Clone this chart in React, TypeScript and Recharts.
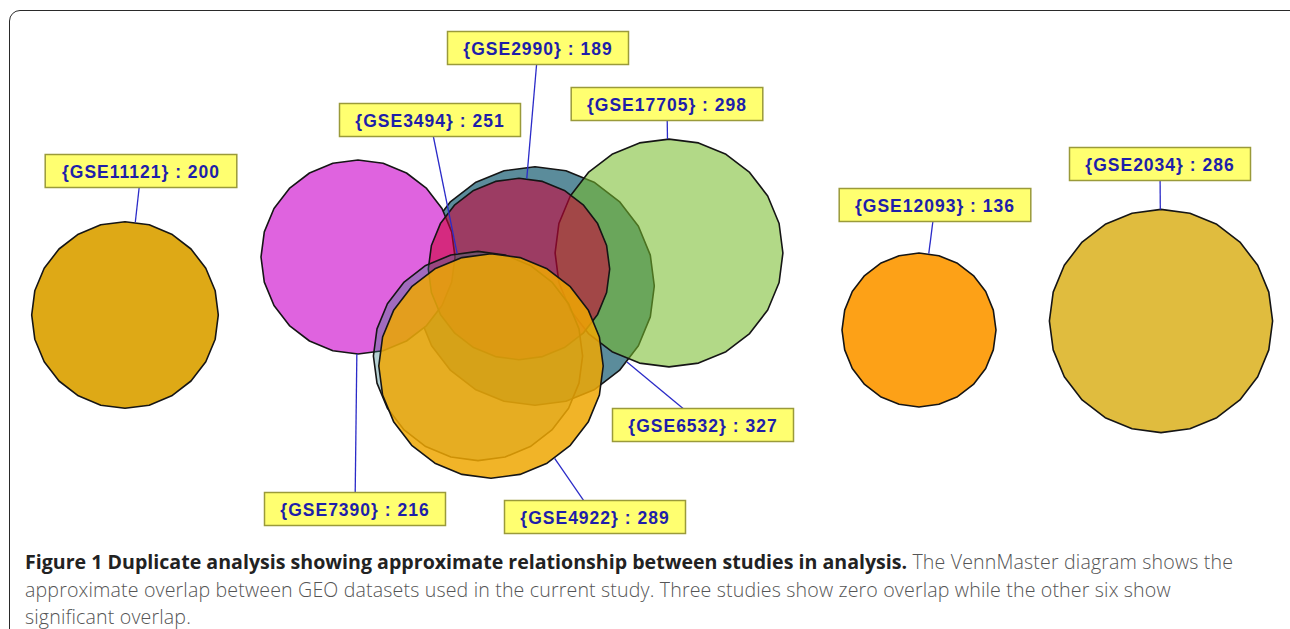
import React from 'react'
import { ScatterChart, Scatter, XAxis, YAxis, ZAxis } from 'recharts'

const W = 1290
const H = 629

// VennMaster sets, listed in drawing order (back to front)
const studies = ['GSE11121', 'GSE12093', 'GSE2034', 'GSE6532', 'GSE7390', 'GSE17705', 'GSE2990', 'GSE3494', 'GSE4922']
const counts = [200, 136, 286, 327, 216, 298, 189, 251, 289]
const centerX = [125, 919, 1161, 535, 358, 669, 519, 478, 491]
const centerY = [315, 330, 321, 286, 257, 253, 269, 356, 366]
// where each "{set} : n" tag sits
const labelX = [141, 935, 1160, 703, 355, 667, 538, 430, 595]
const labelY = [171, 205, 164, 425, 509, 104, 48, 120, 517]

const FILLS: Record<string, [string, number]> = {
  GSE11121: ['#DEA916', 1],
  GSE12093: ['#FDA117', 1],
  GSE2034: ['#E0BC3E', 1],
  GSE6532: ['#5B8C9B', 1],
  GSE7390: ['#DF63DF', 1],
  GSE17705: ['#75BB29', 0.56],
  GSE2990: ['#CD0038', 0.57],
  GSE3494: ['#2E7A80', 0.35],
  GSE4922: ['#EEA702', 0.85],
}

const K = 6.6 // px radius per sqrt(count)
const SIDES = 24

const rows = studies.map((s, i) => ({ name: s, x: centerX[i], y: centerY[i], count: counts[i] }))
const tags = studies.map((s, i) => ({ name: s, x: labelX[i], y: labelY[i], text: `{${s}} : ${counts[i]}` }))

// connector from the circle's rim toward the tag centre
const connectors = rows.map((r, i) => {
  const dx = labelX[i] - r.x
  const dy = labelY[i] - r.y
  const d = Math.sqrt(dx * dx + dy * dy)
  const rad = K * Math.sqrt(r.count)
  return [
    { x: r.x + (rad * dx) / d, y: r.y + (rad * dy) / d },
    { x: labelX[i], y: labelY[i] },
  ]
})

function PolyCircle(props: any) {
  const { cx, cy, width, payload } = props
  const r = width / 2
  const pts: string[] = []
  for (let i = 0; i < SIDES; i++) {
    const a = (i / SIDES) * Math.PI * 2 - Math.PI / 2
    pts.push(`${(cx + r * Math.cos(a)).toFixed(1)},${(cy + r * Math.sin(a)).toFixed(1)}`)
  }
  const [fill, op] = FILLS[payload.name]
  return <polygon points={pts.join(' ')} fill={fill} fillOpacity={op} stroke="#151515" strokeWidth={1.6} strokeLinejoin="round" />
}

function Tag(props: any) {
  const { cx, cy, payload } = props
  const text: string = payload.text
  const w = text.length * 10.6 + 22
  const h = 33
  return (
    <g>
      <rect x={cx - w / 2} y={cy - h / 2} width={w} height={h} fill="#FFFF70" stroke="#9A9A3A" strokeWidth={1.5} />
      <text
        x={cx}
        y={cy + 1}
        textAnchor="middle"
        dominantBaseline="central"
        fontFamily="'Liberation Sans', Arial, sans-serif"
        fontWeight="bold"
        fontSize={17.5}
        letterSpacing={1}
        fill="#1E1EAA"
      >
        {text}
      </text>
    </g>
  )
}

const NoDot = () => <g />

export default function App() {
  return (
    <div style={{ position: 'absolute', left: 0, top: 0, width: W, height: H, background: '#fff', overflow: 'hidden' }}>
      <div
        style={{
          position: 'absolute', left: 9, top: 10, width: 1300, height: 660,
          border: '1.5px solid #2a2a2a', borderRadius: 11, boxSizing: 'border-box',
        }}
      />
      <div style={{ position: 'absolute', left: 0, top: 0 }}>
        <ScatterChart width={W} height={H} margin={{ top: 0, right: 0, bottom: 0, left: 0 }}>
          <XAxis type="number" dataKey="x" domain={[0, W]} hide />
          <YAxis type="number" dataKey="y" domain={[0, H]} reversed hide width={0} />
          <ZAxis type="number" dataKey="count" domain={[0, 400]} range={[0, Math.PI * K * K * 400]} />
          <Scatter data={rows} shape={<PolyCircle />} isAnimationActive={false} />
          {connectors.map((c, i) => (
            <Scatter
              key={'c' + i}
              data={c}
              line={{ stroke: '#2B2BC8', strokeWidth: 1.3 }}
              lineType="joint"
              shape={<NoDot />}
              isAnimationActive={false}
            />
          ))}
          <Scatter data={tags} shape={<Tag />} isAnimationActive={false} />
        </ScatterChart>
      </div>
      <div
        style={{
          position: 'absolute', left: 25, top: 548, fontFamily: "'Open Sans', sans-serif",
          fontSize: 19.6, lineHeight: '27.5px', color: '#555', fontWeight: 300, letterSpacing: 0.15,
          whiteSpace: 'nowrap',
        }}
      >
        <div>
          <span style={{ fontWeight: 700, color: '#222', letterSpacing: 0 }}>
            Figure 1 Duplicate analysis showing approximate relationship between studies in analysis.
          </span>{' '}
          The VennMaster diagram shows the
        </div>
        <div>approximate overlap between GEO datasets used in the current study. Three studies show zero overlap while the other six show</div>
        <div>significant overlap.</div>
      </div>
    </div>
  )
}
